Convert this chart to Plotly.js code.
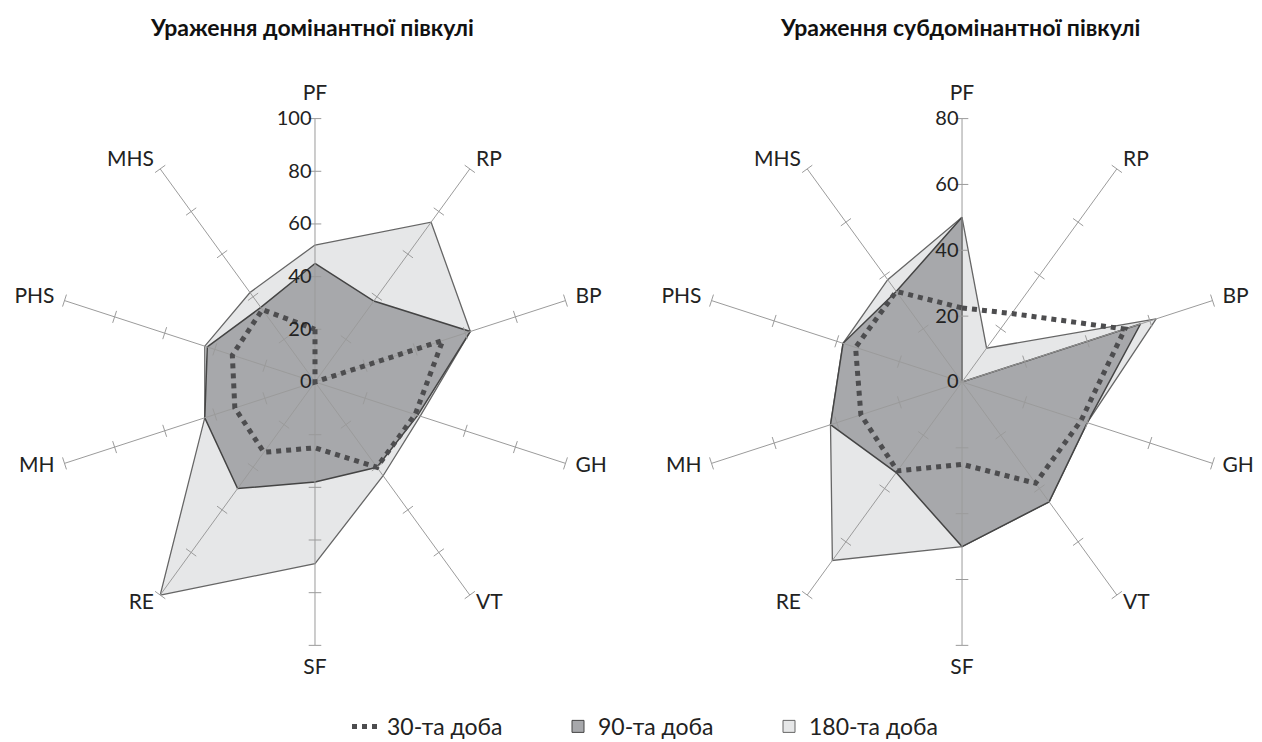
<!DOCTYPE html>
<html>
<head>
<meta charset="utf-8">
<script src="https://cdn.plot.ly/plotly-3.0.1.min.js"></script>
<style>html,body{margin:0;padding:0;background:#fff;}#chart{width:1262px;height:742px;}</style>
</head>
<body>
<div id="chart"></div>
<script>
// ---- data ----
const categories = ['PF','RP','BP','GH','VT','SF','RE','MH','PHS','MHS'];
const seriesNames = ['30-та доба','90-та доба','180-та доба'];
const titles = ['Ураження домінантної півкулі','Ураження субдомінантної півкулі'];

const left30  = [20, 0, 51, 40, 40, 25, 33, 32, 33, 34];
const left90  = [45, 38, 62, 41, 40, 38, 50, 44, 43, 35];
const left180 = [52, 75, 62, 42, 44, 69, 100, 44, 44, 42];

const right30  = [22.5, 25.7, 52, 38, 38, 25, 33.4, 32.3, 34, 34];
const right90  = [50, 0, 57, 40, 45, 50, 34, 42, 38, 34];
const right180 = [50, 12.7, 62, 40, 45, 50, 67, 42, 38, 38.4];

const leftTicks  = [0, 20, 40, 60, 80, 100];
const rightTicks = [0, 20, 40, 60, 80];

// ---- styling ----
const FONT = 'Lato, "Open Sans", sans-serif';
const SPOKE = '#9b9b9b';
const DARK_FILL = '#a7a8ab', LIGHT_FILL = '#e6e7e8';
const LABEL_SCALE = 1.12;   // label overlay subplot is this much larger (domain and range)
const closeR = a => a.concat([a[0]]);
const closeT = () => categories.concat([categories[0]]);

function chartTraces(sub, labelSub, d30, d90, d180, ticks) {
  const rmax = ticks[ticks.length - 1];
  const step = 360 / categories.length;
  const tr = [];
  tr.push({type:'scatterpolar', subplot:sub, r:closeR(d180), theta:closeT(), mode:'lines',
    fill:'toself', fillcolor:LIGHT_FILL, line:{color:'#666', width:1.3},
    showlegend:false, hoverinfo:'skip'});
  tr.push({type:'scatterpolar', subplot:sub, r:closeR(d90), theta:closeT(), mode:'lines',
    fill:'toself', fillcolor:DARK_FILL, line:{color:'#444', width:1.5},
    showlegend:false, hoverinfo:'skip'});
  // spokes
  categories.forEach(c => {
    tr.push({type:'scatterpolar', subplot:sub, r:[0, rmax], theta:[c, c], mode:'lines',
      line:{color:SPOKE, width:1}, showlegend:false, hoverinfo:'skip'});
  });
  // tick marks on every spoke
  const tr_r = [], tr_t = [], tr_a = [];
  categories.forEach((c, i) => {
    ticks.slice(1).forEach(v => { tr_r.push(v); tr_t.push(c); tr_a.push(i * step); });
  });
  tr.push({type:'scatterpolar', subplot:sub, r:tr_r, theta:tr_t, mode:'markers',
    marker:{symbol:'line-ew', size:9, angle:tr_a, line:{color:SPOKE, width:1}},
    showlegend:false, hoverinfo:'skip'});
  tr.push({type:'scatterpolar', subplot:sub, r:closeR(d30), theta:closeT(), mode:'lines',
    line:{color:'#4d4d4f', width:5, dash:'dot'},
    showlegend:false, hoverinfo:'skip'});
  // category labels (on an overlay subplot with a wider radial range and domain)
  const pos = categories.map((c, i) => {
    const a = i * step;
    return a === 0 ? 'top center' : a === 180 ? 'bottom center' : a < 180 ? 'middle right' : 'middle left';
  });
  const lr = categories.map((c, i) => rmax * ((i * step) % 180 === 0 ? 1.05 : 1.04));
  tr.push({type:'scatterpolar', subplot:labelSub, r:lr, theta:categories, mode:'text',
    text:categories, textposition:pos, cliponaxis:false,
    textfont:{family:FONT, size:21, color:'#222'}, showlegend:false, hoverinfo:'skip'});
  return tr;
}

const data = chartTraces('polar', 'polar3', left30, left90, left180, leftTicks)
  .concat(chartTraces('polar2', 'polar4', right30, right90, right180, rightTicks));

// legend-only entries
data.push({type:'scatterpolar', subplot:'polar', r:[null], theta:[null], mode:'lines',
  line:{color:'#4d4d4f', width:5, dash:'dot'}, name:seriesNames[0], legendrank:1, hoverinfo:'skip'});
data.push({type:'scatterpolar', subplot:'polar', r:[null], theta:[null], mode:'markers',
  marker:{symbol:'square', size:12, color:DARK_FILL, line:{color:'#444', width:1}},
  name:seriesNames[1], legendrank:2, hoverinfo:'skip'});
data.push({type:'scatterpolar', subplot:'polar', r:[null], theta:[null], mode:'markers',
  marker:{symbol:'square', size:12, color:LIGHT_FILL, line:{color:'#666', width:1}},
  name:seriesNames[2], legendrank:3, hoverinfo:'skip'});

const DOMAIN_Y = [0.1302, 0.8402];
const LEFT_X = [0.0409, 0.4583], RIGHT_X = [0.5536, 0.9710];
function scaleDomain(d, k) {
  const c = (d[0] + d[1]) / 2, h = (d[1] - d[0]) / 2 * k;
  return [c - h, c + h];
}
function polarLayout(dx, ticks) {
  return {
    domain:{x:dx, y:DOMAIN_Y},
    bgcolor:'rgba(0,0,0,0)',
    radialaxis:{range:[0, ticks[ticks.length-1]], tickvals:ticks, ticks:'', showline:false,
      showgrid:false, angle:90, side:'counterclockwise', tickangle:90,
      tickfont:{family:FONT, size:20, color:'#222'}, layer:'above traces'},
    angularaxis:{type:'category', categoryarray:categories, direction:'clockwise', rotation:90,
      showgrid:false, showline:false, ticks:'', showticklabels:false}
  };
}
function labelPolarLayout(dx, ticks) {
  return {
    domain:{x:scaleDomain(dx, LABEL_SCALE), y:scaleDomain(DOMAIN_Y, LABEL_SCALE)},
    bgcolor:'rgba(0,0,0,0)',
    radialaxis:{range:[0, ticks[ticks.length-1] * LABEL_SCALE], visible:false,
      showline:false, showgrid:false, showticklabels:false, ticks:''},
    angularaxis:{type:'category', categoryarray:categories, direction:'clockwise', rotation:90,
      showgrid:false, showline:false, ticks:'', showticklabels:false}
  };
}

const layout = {
  width:1262, height:742,
  margin:{l:0, r:0, t:0, b:0, autoexpand:false},
  paper_bgcolor:'#fff',
  showlegend:true,
  polar: polarLayout(LEFT_X, leftTicks),
  polar2: polarLayout(RIGHT_X, rightTicks),
  polar3: labelPolarLayout(LEFT_X, leftTicks),
  polar4: labelPolarLayout(RIGHT_X, rightTicks),
  legend:{orientation:'h', x:347/1262, xanchor:'left', y:-0.008, yanchor:'bottom',
    font:{family:FONT, size:23, color:'#222'}, entrywidth:166},
  annotations:[
    {text:'<b>'+titles[0]+'</b>', x:312/1262, y:1-27/742, xref:'paper', yref:'paper',
     xanchor:'center', yanchor:'middle', showarrow:false, font:{family:FONT, size:23, color:'#111'}},
    {text:'<b>'+titles[1]+'</b>', x:960/1262, y:1-27/742, xref:'paper', yref:'paper',
     xanchor:'center', yanchor:'middle', showarrow:false, font:{family:FONT, size:23, color:'#111'}}
  ]
};

Plotly.newPlot('chart', data, layout, {displayModeBar:false, staticPlot:true});
</script>
</body>
</html>
